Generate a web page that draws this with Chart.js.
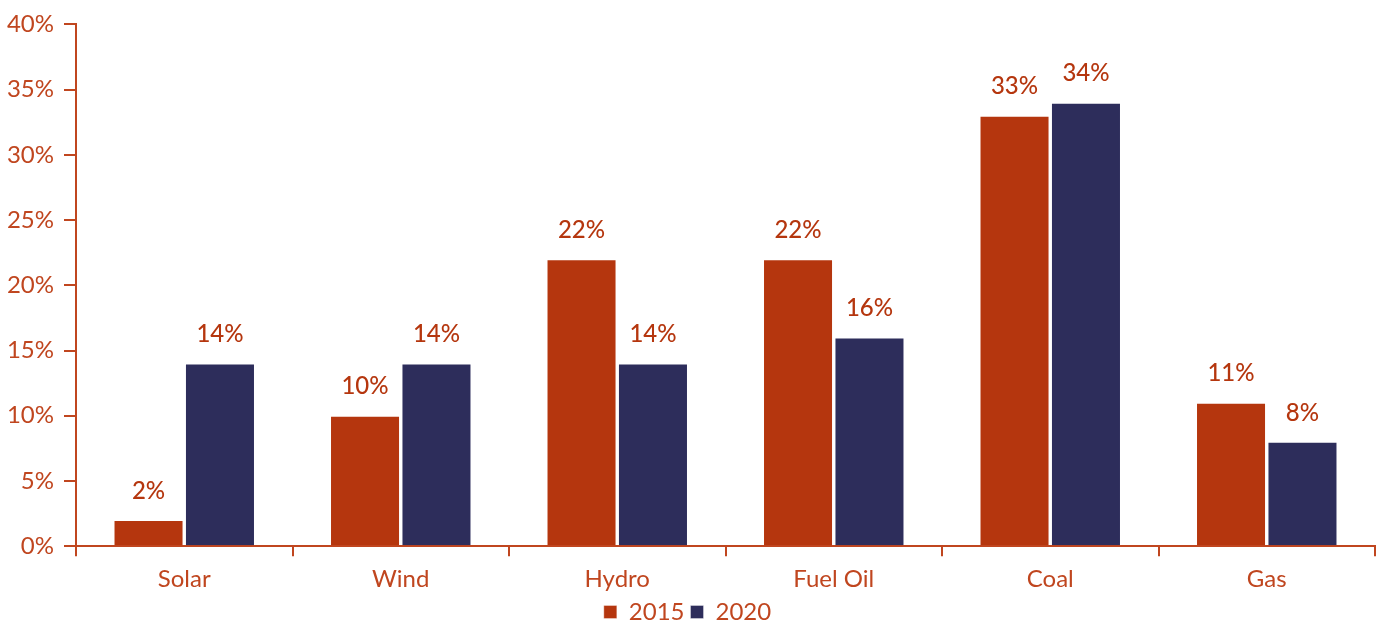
<!DOCTYPE html>
<html><head><meta charset="utf-8">
<script src="https://cdn.jsdelivr.net/npm/chart.js@4/dist/chart.umd.min.js"></script>
<style>html,body{margin:0;padding:0;background:#fff}#wrap{width:1382px;height:622px}</style>
</head><body><div id="wrap"><canvas id="c" width="1382" height="622"></canvas></div>
<script>
const categories = ["Solar","Wind","Hydro","Fuel Oil","Coal","Gas"];
const values2015 = [2,10,22,22,33,11];
const values2020 = [14,14,14,16,34,8];
const yTicks = [0,5,10,15,20,25,30,35,40];

const ORANGE = "#B5360E";
const NAVY = "#2D2D5B";
const AXIS = "#C0461F";
const FONT = "Lato, 'Open Sans', sans-serif";

const labelPlugin = {
  id: "valLabels",
  afterDatasetsDraw(chart) {
    const ctx = chart.ctx;
    ctx.save();
    ctx.font = "500 24px " + FONT;
    ctx.fillStyle = ORANGE;
    ctx.textAlign = "center";
    ctx.textBaseline = "middle";
    chart.data.datasets.forEach((ds, i) => {
      chart.getDatasetMeta(i).data.forEach((bar, j) => {
        ctx.fillText(ds.data[j] + "%", bar.x, bar.y - 29);
      });
    });
    ctx.restore();
  }
};

new Chart(document.getElementById("c"), {
  type: "bar",
  data: {
    labels: categories,
    datasets: [
      {label: "2015", data: values2015, backgroundColor: ORANGE, borderColor: "rgba(255,255,255,0.35)", borderWidth: 1, categoryPercentage: 0.66, barPercentage: 0.98},
      {label: "2020", data: values2020, backgroundColor: NAVY, borderColor: "rgba(255,255,255,0.35)", borderWidth: 1, categoryPercentage: 0.66, barPercentage: 0.98}
    ]
  },
  options: {
    responsive: false,
    animation: false,
    layout: {padding: {top: 20, right: 7, left: 0, bottom: -12}},
    plugins: {
      legend: {
        position: "bottom",
        labels: {boxWidth: 13, boxHeight: 13, padding: 6, color: AXIS, font: {family: FONT, size: 24}}
      },
      tooltip: {enabled: false}
    },
    scales: {
      x: {
        afterFit(scale) { scale.height = scale.height - 9; },
        grid: {display: true, drawOnChartArea: false, offset: true, color: AXIS, lineWidth: 2, tickLength: 10},
        border: {color: AXIS, width: 2},
        ticks: {color: AXIS, font: {family: FONT, size: 24}, padding: 9}
      },
      y: {
        min: 0, max: 40,
        afterBuildTicks(scale) { scale.ticks = yTicks.map(v => ({value: v})); },
        afterFit(scale) { scale.width = 76; },
        grid: {display: true, drawOnChartArea: false, color: AXIS, lineWidth: 2, tickLength: 12},
        border: {color: AXIS, width: 2},
        ticks: {color: AXIS, font: {family: FONT, size: 24}, padding: 10, callback: v => v + "%"}
      }
    }
  },
  plugins: [labelPlugin]
});
</script></body></html>
